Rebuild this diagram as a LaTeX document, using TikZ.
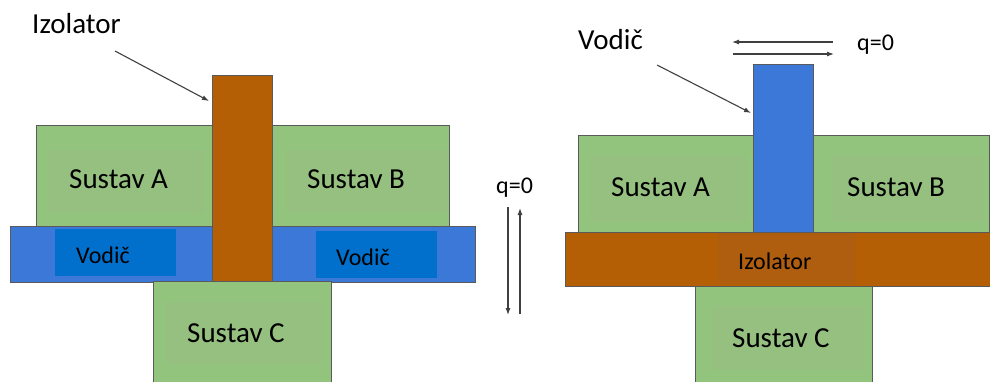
\documentclass[tikz,border=0pt]{standalone}
\usepackage{fontspec}
\setmainfont{Carlito}
\usepackage{xcolor}
\usetikzlibrary{arrows.meta, positioning}

\definecolor{zelena}{HTML}{93C47D}
\definecolor{zelenaIn}{HTML}{96C080}
\definecolor{plava}{HTML}{3C78D8}
\definecolor{plavaIn}{HTML}{0070CC}
\definecolor{smeda}{HTML}{B45F06}
\definecolor{smedaIn}{HTML}{AF5E10}
\definecolor{rub}{HTML}{5A5A5A}
\definecolor{crta}{HTML}{404040}

\begin{document}
\begin{tikzpicture}[x=1pt, y=-1pt, font=\fontsize{29}{34}\selectfont,
      blok/.style = {draw=rub, line width=0.9pt, anchor=north west,
                     inner sep=0pt, outer sep=0pt},
      unut/.style = {anchor=north west, inner sep=0pt, outer sep=0pt},
      dim/.style 2 args = {minimum width=#1pt, minimum height=#2pt},
      tekst/.style = {anchor=base west, inner sep=0pt},
      mali/.style = {font=\fontsize{24}{28}\selectfont},
      strel/.style = {draw=crta, line width=1.1pt, -{Latex[length=7pt, width=5pt]}} ]

\useasboundingbox (0,0) rectangle (990,381);
\clip (0,0) rectangle (990,381);

% lijevo: izolator izmedju A i B
\node (sAL)  [blok, fill=zelena, dim={176}{101}] at (36,125) {};
\node (sBL)  [blok, fill=zelena, dim={177}{101}] at (272,125) {};
\node (uAL)  [unut, fill=zelenaIn, dim={157}{63}] at (48,150) {};
\node (uBL)  [unut, fill=zelenaIn, dim={161}{63}] at (286,150) {};
\node (vodL) [blok, fill=plava, dim={465}{56}] at (10,226) {};
\node (uV1)  [unut, fill=plavaIn, dim={121}{47}] at (55,229) {};
\node (uV2)  [unut, fill=plavaIn, dim={121}{47}] at (316,231) {};
\node (izoL) [blok, fill=smeda, dim={60}{206}] at (212,75) {};
\node (sCL)  [blok, fill=zelena, dim={178}{120}] at (153,281) {};
\node (uCL)  [unut, fill=zelenaIn, dim={157}{62}] at (166,302) {};

\node (tAL) [tekst] at (69,188) {Sustav A};
\node (tBL) [tekst] at (307,188) {Sustav B};
\node (tCL) [tekst] at (187,342) {Sustav C};
\node (tV1) [tekst, mali] at (76,263) {Vodič};
\node (tV2) [tekst, mali] at (336,265) {Vodič};
\node (lblIzo) [tekst] at (32,33) {Izolator};

\coordinate (izoPoc) at (115,51);
\draw[strel] (izoPoc) -- ([xshift=-3pt, yshift=-26pt]izoL.north west);

\node (qL) [tekst, mali] at (496,193) {q=0};
\coordinate (qLa) at (508,207);
\coordinate (qLb) at (508,315);
\coordinate (qLc) at (520,314);
\coordinate (qLd) at (520,208);
\draw[strel] (qLa) -- (qLb);
\draw[strel] (qLc) -- (qLd);

% desno: vodic izmedju A i B
\node (vodR) [blok, fill=plava, dim={60}{168}] at (753,64) {};
\node (sAR)  [blok, fill=zelena, dim={175}{97}] at (578,135) {};
\node (sBR)  [blok, fill=zelena, dim={176}{97}] at (813,135) {};
\node (uAR)  [unut, fill=zelenaIn, dim={157}{67}] at (590,155) {};
\node (uBR)  [unut, fill=zelenaIn, dim={150}{67}] at (833,155) {};
\node (izoR) [blok, fill=smeda, dim={440}{54}] at (565,232) {};
\node (uIR)  [unut, fill=smedaIn, dim={137}{51}] at (718,233) {};
\node (sCR)  [blok, fill=zelena, dim={177}{110}] at (695,286) {};
\node (uCR)  [unut, fill=zelenaIn, dim={152}{64}] at (711,306) {};

\node (tAR) [tekst] at (611,196) {Sustav A};
\node (tBR) [tekst] at (847,196) {Sustav B};
\node (tCR) [tekst] at (732,347) {Sustav C};
\node (tIR) [tekst, mali] at (738,269) {Izolator};
\node (lblVod) [tekst] at (578,49) {Vodič};

\coordinate (vodPoc) at (657,65);
\draw[strel] (vodPoc) -- ([xshift=-2pt, yshift=-49pt]vodR.north west);

\node (qR) [tekst, mali] at (857,50) {q=0};
\coordinate (qRa) at (833,42);
\coordinate (qRb) at (732,42);
\coordinate (qRc) at (733,54);
\coordinate (qRd) at (834,54);
\draw[strel] (qRa) -- (qRb);
\draw[strel] (qRc) -- (qRd);
\end{tikzpicture}
\end{document}
